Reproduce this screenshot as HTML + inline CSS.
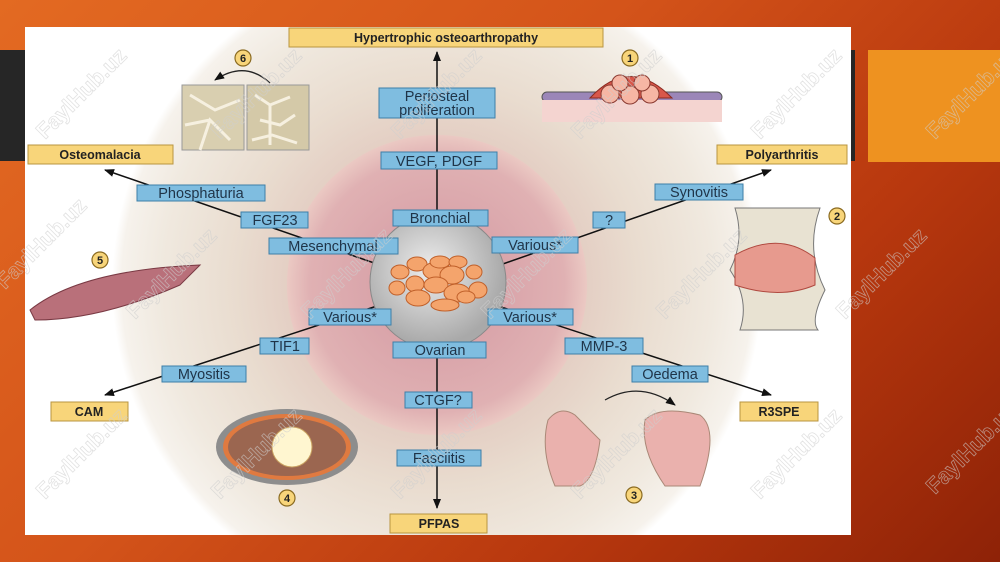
<!DOCTYPE html>
<html><head><meta charset="utf-8"><style>
html,body{margin:0;padding:0;width:1000px;height:562px;overflow:hidden}
body{background:linear-gradient(135deg,#e36a22 0%,#d4541a 40%,#b8380e 70%,#8e2207 100%);font-family:"Liberation Sans",sans-serif;position:relative}
svg{position:absolute;left:0;top:0;display:block}
.b{fill:#7fbde0;stroke:#3d7fa8;stroke-width:1}
.y{fill:#f8d57a;stroke:#b99540;stroke-width:1}
.t{font-family:"Liberation Sans",sans-serif;font-size:14.5px;fill:#1f3448;text-anchor:middle}
.ty{font-family:"Liberation Sans",sans-serif;font-size:12.5px;font-weight:bold;fill:#222;text-anchor:middle}
.n{fill:#f8d57a;stroke:#8a6a20;stroke-width:1.2}
.nt{font-family:"Liberation Sans",sans-serif;font-size:11px;font-weight:bold;fill:#222;text-anchor:middle}
.w{font-family:"Liberation Sans",sans-serif;font-size:22px;font-weight:bold;fill:none;stroke:#cfcfcf;stroke-width:0.8;opacity:.6}
</style></head><body>
<svg width="1000" height="562" viewBox="0 0 1000 562">
<defs>
<radialGradient id="halo" cx="437" cy="285" r="325" gradientUnits="userSpaceOnUse">
<stop offset="0" stop-color="#e2c0bc"/><stop offset="0.46" stop-color="#e4cfc4"/><stop offset="0.62" stop-color="#e9dccf"/><stop offset="0.85" stop-color="#f0e9df"/><stop offset="0.97" stop-color="#f6f2ec"/><stop offset="1" stop-color="#ffffff"/>
</radialGradient>
<radialGradient id="pink" cx="437" cy="285" r="150" gradientUnits="userSpaceOnUse">
<stop offset="0.3" stop-color="#d7a0a7"/><stop offset="0.85" stop-color="#e0b1b3"/><stop offset="1" stop-color="#ebc9c3"/>
</radialGradient>
<radialGradient id="core" cx="430" cy="270" r="75" gradientUnits="userSpaceOnUse">
<stop offset="0" stop-color="#eeeeee"/><stop offset="1" stop-color="#a9a9a9"/>
</radialGradient>
<marker id="ar" markerWidth="10" markerHeight="8" refX="9" refY="4" orient="auto" markerUnits="userSpaceOnUse"><path d="M0,0 L10,4 L0,8 Z" fill="#111"/></marker>
<clipPath id="pc"><rect x="25" y="27" width="826" height="508"/></clipPath>
<clipPath id="all"><rect x="0" y="0" width="1000" height="562"/></clipPath>
</defs>
<g clip-path="url(#all)">
<rect x="0" y="50" width="25" height="111" fill="#262626"/>
<rect x="868" y="50" width="132" height="112" fill="#ee9220"/>
<rect x="851" y="50" width="4" height="111" fill="#262626"/>
<rect x="25" y="27" width="826" height="508" fill="#fff"/>
<g clip-path="url(#pc)">
<circle cx="437" cy="285" r="325" fill="url(#halo)"/>
<circle cx="437" cy="285" r="150" fill="url(#pink)"/>
</g>
<g stroke="#111" stroke-width="1.5" fill="none">
<line x1="437" y1="215" x2="437" y2="52" marker-end="url(#ar)"/>
<line x1="437" y1="350" x2="437" y2="508" marker-end="url(#ar)"/>
<line x1="380" y1="265" x2="105" y2="170" marker-end="url(#ar)"/>
<line x1="500" y1="265" x2="771" y2="170" marker-end="url(#ar)"/>
<line x1="380" y1="305" x2="105" y2="395" marker-end="url(#ar)"/>
<line x1="495" y1="305" x2="771" y2="395" marker-end="url(#ar)"/>
</g>
<circle cx="438" cy="282" r="68" fill="url(#core)" stroke="#888"/>
<g fill="#f4a46c" stroke="#c0602a" stroke-width="1">
<ellipse cx="400" cy="272" rx="9" ry="7"/><ellipse cx="417" cy="264" rx="10" ry="7"/><ellipse cx="437" cy="271" rx="14" ry="9"/><ellipse cx="440" cy="262" rx="10" ry="6"/><ellipse cx="458" cy="262" rx="9" ry="6"/><ellipse cx="452" cy="275" rx="12" ry="9"/><ellipse cx="474" cy="272" rx="8" ry="7"/><ellipse cx="397" cy="288" rx="8" ry="7"/><ellipse cx="415" cy="284" rx="9" ry="8"/><ellipse cx="436" cy="285" rx="12" ry="8"/><ellipse cx="457" cy="293" rx="13" ry="9"/><ellipse cx="478" cy="290" rx="9" ry="8"/><ellipse cx="418" cy="298" rx="12" ry="8"/><ellipse cx="466" cy="297" rx="9" ry="6"/><ellipse cx="445" cy="305" rx="14" ry="6"/>
</g>
<rect class="b" x="379" y="88" width="116" height="30"/><text class="t" x="437" y="101">Periosteal</text><text class="t" x="437" y="115">proliferation</text>
<rect class="b" x="381" y="152" width="116" height="17"/><text class="t" x="439" y="166">VEGF, PDGF</text>
<rect class="b" x="393" y="210" width="95" height="16"/><text class="t" x="440" y="223">Bronchial</text>
<rect class="b" x="269" y="238" width="129" height="16"/><text class="t" x="333" y="251">Mesenchymal</text>
<rect class="b" x="241" y="212" width="67" height="16"/><text class="t" x="275" y="225">FGF23</text>
<rect class="b" x="137" y="185" width="128" height="16"/><text class="t" x="201" y="198">Phosphaturia</text>
<rect class="b" x="309" y="309" width="82" height="16"/><text class="t" x="350" y="322">Various*</text>
<rect class="b" x="260" y="338" width="49" height="16"/><text class="t" x="285" y="351">TIF1</text>
<rect class="b" x="162" y="366" width="84" height="16"/><text class="t" x="204" y="379">Myositis</text>
<rect class="b" x="393" y="342" width="93" height="16"/><text class="t" x="440" y="355">Ovarian</text>
<rect class="b" x="405" y="392" width="67" height="16"/><text class="t" x="438" y="405">CTGF?</text>
<rect class="b" x="397" y="450" width="84" height="16"/><text class="t" x="439" y="463">Fasciitis</text>
<rect class="b" x="492" y="237" width="86" height="16"/><text class="t" x="535" y="250">Various*</text>
<rect class="b" x="593" y="212" width="32" height="16"/><text class="t" x="609" y="225">?</text>
<rect class="b" x="655" y="184" width="88" height="16"/><text class="t" x="699" y="197">Synovitis</text>
<rect class="b" x="488" y="309" width="85" height="16"/><text class="t" x="530" y="322">Various*</text>
<rect class="b" x="565" y="338" width="78" height="16"/><text class="t" x="604" y="351">MMP-3</text>
<rect class="b" x="632" y="366" width="76" height="16"/><text class="t" x="670" y="379">Oedema</text>
<rect class="y" x="289" y="28" width="314" height="19"/><text class="ty" x="446" y="42">Hypertrophic osteoarthropathy</text>
<rect class="y" x="28" y="145" width="145" height="19"/><text class="ty" x="100" y="159">Osteomalacia</text>
<rect class="y" x="717" y="145" width="130" height="19"/><text class="ty" x="782" y="159">Polyarthritis</text>
<rect class="y" x="51" y="402" width="77" height="19"/><text class="ty" x="89" y="416">CAM</text>
<rect class="y" x="740" y="402" width="78" height="19"/><text class="ty" x="779" y="416">R3SPE</text>
<rect class="y" x="390" y="514" width="97" height="19"/><text class="ty" x="439" y="528">PFPAS</text>
<rect x="182" y="85" width="62" height="65" fill="#d9cfb0" stroke="#999"/>
<rect x="247" y="85" width="62" height="65" fill="#d4c9a8" stroke="#999"/>
<g stroke="#f6f0e0" stroke-width="3" fill="none"><path d="M190,95 L215,110 L240,100 M200,150 L210,120 L230,140 M185,125 L210,120"/><path d="M255,95 l15,10 l20,-8 M260,120 l20,5 l15,-10 M252,140 l20,-5 l25,8 M270,105 l0,40"/></g>
<path d="M270,83 Q245,60 215,80" stroke="#222" stroke-width="1.3" fill="none" marker-end="url(#ar)"/>
<rect x="542" y="92" width="180" height="10" rx="5" fill="#9b86b8" stroke="#555"/>
<rect x="542" y="100" width="180" height="22" fill="#f4d4d0"/>
<path d="M590,98 Q630,55 672,98 Z" fill="#d8574a" stroke="#8a2a20"/>
<g fill="#f6b6a4" stroke="#8a3a30"><circle cx="610" cy="94" r="9"/><circle cx="630" cy="95" r="9"/><circle cx="650" cy="94" r="9"/><circle cx="620" cy="83" r="8"/><circle cx="642" cy="83" r="8"/></g>
<path d="M735,208 L820,208 Q805,250 825,290 Q810,320 818,330 L740,330 Q750,300 730,270 Q745,240 735,208 Z" fill="#e8e2d2" stroke="#777"/>
<path d="M735,255 Q780,230 815,258 L815,285 Q780,300 735,285 Z" fill="#e79a8e" stroke="#b04a40"/>
<path d="M30,310 Q80,270 200,265 L180,285 Q100,320 35,320 Z" fill="#b9707a" stroke="#7a3a44"/>
<ellipse cx="287" cy="447" rx="71" ry="38" fill="#8d8d8d"/>
<ellipse cx="287" cy="447" rx="64" ry="33" fill="#e07a40"/>
<ellipse cx="287" cy="447" rx="59" ry="29" fill="#9b6650"/>
<circle cx="292" cy="447" r="20" fill="#fff6d0" stroke="#c8a060"/>
<path d="M548,420 Q560,405 575,415 L600,440 Q595,480 580,486 L555,486 Q540,450 548,420 Z M645,420 Q660,405 700,415 Q720,430 700,486 L665,486 Q640,450 645,420 Z" fill="#eab1ad" stroke="#a87"/>
<path d="M605,400 Q640,380 675,405" stroke="#222" stroke-width="1.2" fill="none" marker-end="url(#ar)"/>
<circle class="n" cx="243" cy="58" r="8"/><text class="nt" x="243" y="62">6</text>
<circle class="n" cx="630" cy="58" r="8"/><text class="nt" x="630" y="62">1</text>
<circle class="n" cx="837" cy="216" r="8"/><text class="nt" x="837" y="220">2</text>
<circle class="n" cx="100" cy="260" r="8"/><text class="nt" x="100" y="264">5</text>
<circle class="n" cx="287" cy="498" r="8"/><text class="nt" x="287" y="502">4</text>
<circle class="n" cx="634" cy="495" r="8"/><text class="nt" x="634" y="499">3</text>
<text class="w" transform="translate(45,140) rotate(-45)">FaylHub.uz</text>
<text class="w" transform="translate(220,140) rotate(-45)">FaylHub.uz</text>
<text class="w" transform="translate(400,140) rotate(-45)">FaylHub.uz</text>
<text class="w" transform="translate(580,140) rotate(-45)">FaylHub.uz</text>
<text class="w" transform="translate(760,140) rotate(-45)">FaylHub.uz</text>
<text class="w" transform="translate(935,140) rotate(-45)">FaylHub.uz</text>
<text class="w" transform="translate(5,290) rotate(-45)">FaylHub.uz</text>
<text class="w" transform="translate(135,320) rotate(-45)">FaylHub.uz</text>
<text class="w" transform="translate(310,320) rotate(-45)">FaylHub.uz</text>
<text class="w" transform="translate(490,320) rotate(-45)">FaylHub.uz</text>
<text class="w" transform="translate(665,320) rotate(-45)">FaylHub.uz</text>
<text class="w" transform="translate(845,320) rotate(-45)">FaylHub.uz</text>
<text class="w" transform="translate(45,500) rotate(-45)">FaylHub.uz</text>
<text class="w" transform="translate(220,500) rotate(-45)">FaylHub.uz</text>
<text class="w" transform="translate(400,500) rotate(-45)">FaylHub.uz</text>
<text class="w" transform="translate(580,500) rotate(-45)">FaylHub.uz</text>
<text class="w" transform="translate(760,500) rotate(-45)">FaylHub.uz</text>
<text class="w" transform="translate(935,495) rotate(-45)">FaylHub.uz</text>
</g>
</svg>
</body></html>
